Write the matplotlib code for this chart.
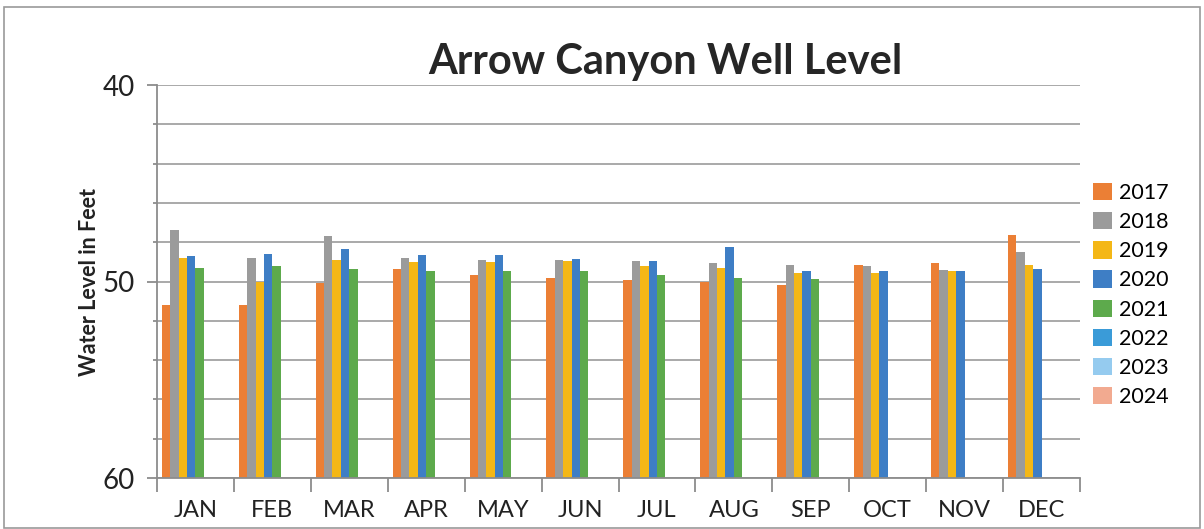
import numpy as np
import matplotlib.pyplot as plt
from matplotlib.patches import Patch, Rectangle

plt.rcParams['font.family'] = ['Lato', 'DejaVu Sans']

months = ['JAN', 'FEB', 'MAR', 'APR', 'MAY', 'JUN', 'JUL', 'AUG', 'SEP', 'OCT', 'NOV', 'DEC']
years = ['2017', '2018', '2019', '2020', '2021', '2022', '2023', '2024']
colors = ['#EB7F35', '#9B9B9B', '#F4B716', '#3E7EC5', '#5DAA4C', '#3A9BD8', '#95CBEF', '#F2AA90']

nan = np.nan
# water level in feet (depth)
y2017 = [51.2, 51.2, 50.1, 49.35, 49.65, 49.8, 49.9, 50.0, 50.2, 49.15, 49.05, 47.65]
y2018 = [47.4, 48.8, 47.7, 48.8, 48.9, 48.9, 48.95, 49.05, 49.15, 49.2, 49.4, 48.5]
y2019 = [48.8, 50.0, 48.9, 49.0, 49.0, 48.95, 49.2, 49.3, 49.55, 49.55, 49.45, 49.15]
y2020 = [48.7, 48.6, 48.35, 48.65, 48.65, 48.85, 48.95, 48.25, 49.45, 49.45, 49.45, 49.35]
y2021 = [49.3, 49.2, 49.35, 49.45, 49.45, 49.45, 49.65, 49.8, 49.85, nan, nan, nan]
y2022 = [nan] * 12
y2023 = [nan] * 12
y2024 = [nan] * 12
series = [y2017, y2018, y2019, y2020, y2021, y2022, y2023, y2024]

fig = plt.figure(figsize=(12.04, 5.29), dpi=100)
ax = fig.add_axes([157 / 1204, 1 - 478 / 529, 923 / 1204, 393 / 529])

x = np.arange(len(months))
w = 0.109
for i, vals in enumerate(series):
    v = np.array(vals, dtype=float)
    ok = ~np.isnan(v)
    pos = x - 0.4365 + w * (i + 0.5)
    ax.bar(pos[ok], v[ok] - 60, bottom=60, width=w, color=colors[i], linewidth=0)

ax.set_ylim(60, 40)
ax.set_xlim(-0.5, 11.5)
ax.set_yticks([40, 50, 60])
ax.set_yticks(np.arange(40, 61, 2), minor=True)
ax.grid(axis='y', which='both', color='#a3a3a3', linewidth=1.3)
ax.set_axisbelow(True)

ax.set_xticks(x)
ax.set_xticklabels(months, fontsize=17, color='#222222')
ax.set_xticks(np.arange(-0.5, 12, 1), minor=True)
ax.tick_params(axis='x', which='major', length=0, pad=16)
ax.tick_params(axis='x', which='minor', length=10, color='#8c8c8c', width=1.3)
ax.tick_params(axis='y', which='major', length=7, color='#8c8c8c', width=1.3, labelsize=20, pad=9,
               labelcolor='#222222')
ax.tick_params(axis='y', which='minor', length=3, color='#8c8c8c', width=1.3)

for s in ['top', 'right']:
    ax.spines[s].set_visible(False)
for s in ['left', 'bottom']:
    ax.spines[s].set_color('#8c8c8c')
    ax.spines[s].set_linewidth(1.3)

ax.set_ylabel('Water Level in Feet', fontsize=15.5, fontweight='bold', color='#222222')
ax.yaxis.set_label_coords(-0.062, 0.5)

fig.text(665 / 1204, 1 - 62 / 529, 'Arrow Canyon Well Level', fontsize=30, fontweight='bold',
         color='#262626', ha='center', va='center')

handles = [Patch(facecolor=c, label=y) for c, y in zip(colors, years)]
fig.legend(handles=handles, loc='center left', bbox_to_anchor=(1074 / 1204, 1 - 295 / 529),
           frameon=False, fontsize=15.5, handlelength=0.85, handleheight=0.85, handletextpad=0.35,
           labelspacing=0.42)

# outer chart frame
fig.patches.append(Rectangle((4 / 1204, 1 / 529), 1196 / 1204, 521 / 529, transform=fig.transFigure,
                             fill=False, edgecolor='#9a9a9a', linewidth=1.2))

fig.savefig('out.png', dpi=100)
